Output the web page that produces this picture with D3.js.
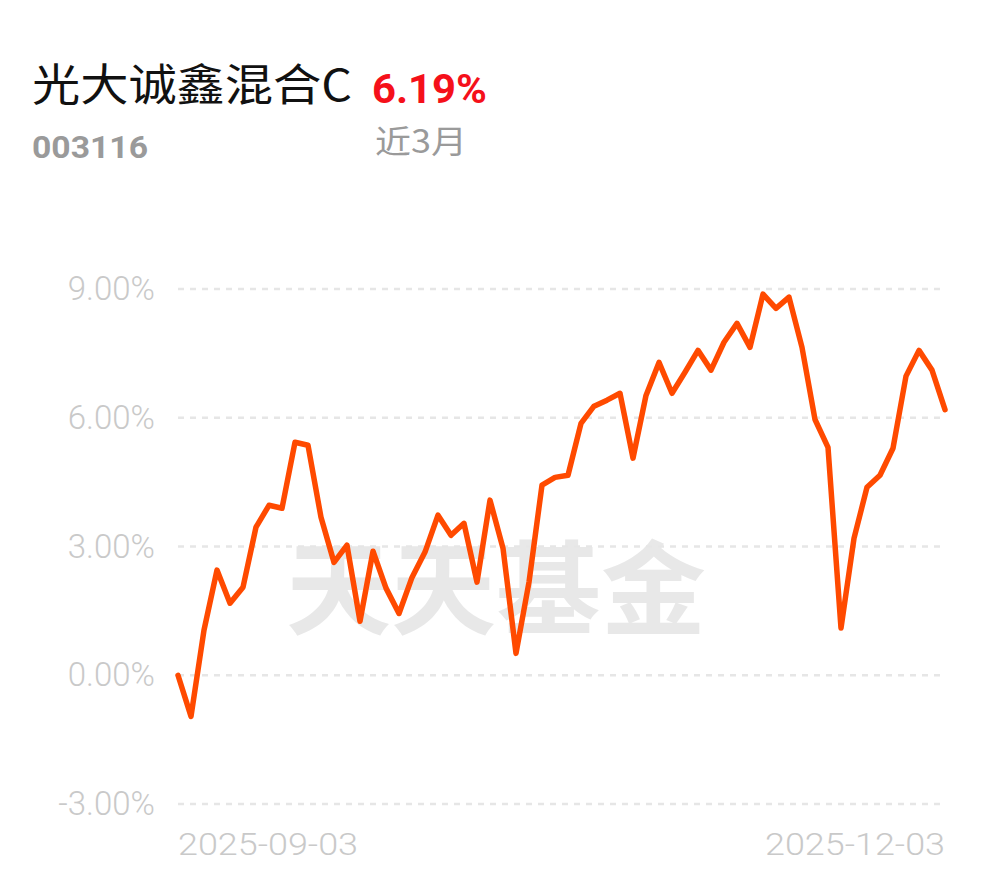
<!DOCTYPE html>
<html><head><meta charset="utf-8">
<script src="https://cdn.jsdelivr.net/npm/d3@7"></script>
<style>html,body{margin:0;padding:0;background:#fff;}svg{display:block;}</style>
</head><body>
<svg id="chart" width="990" height="878"></svg>
<script>
const fundName = "光大诚鑫混合C";
const fundCode = "003116";
const returnLabel = "6.19%";
const periodLabel = "近3月";
const watermark = "天天基金";
const yTicks = [-3, 0, 3, 6, 9];
const xLabels = ["2025-09-03", "2025-12-03"];
const values = [0.00, -0.96, 1.05, 2.45, 1.68, 2.05, 3.45, 3.96, 3.89, 5.43,
  5.36, 3.68, 2.63, 3.03, 1.26, 2.89, 2.03, 1.44, 2.28, 2.87,
  3.73, 3.26, 3.54, 2.17, 4.08, 2.96, 0.51, 2.17, 4.43, 4.61,
  4.66, 5.87, 6.27, 6.41, 6.57, 5.06, 6.52, 7.29, 6.57, 7.06,
  7.57, 7.11, 7.76, 8.20, 7.64, 8.88, 8.55, 8.81, 7.64, 5.96,
  5.31, 1.10, 3.19, 4.38, 4.66, 5.29, 6.97, 7.57, 7.11, 6.19];

const svg = d3.select("#chart");
const left = 178, right = 945;
const x = d3.scaleLinear().domain([0, values.length - 1]).range([left, right]);
const y = d3.scaleLinear().domain([-3, 9]).range([804, 289]);

// header
svg.append("text").attr("x", 32).attr("y", 101).attr("font-family", "Noto Sans CJK SC")
  .attr("font-size", 44).attr("fill", "#111")
  .attr("textLength", 320).attr("lengthAdjust", "spacingAndGlyphs").text(fundName);
svg.append("text").attr("x", 372).attr("y", 103).attr("font-family", "Roboto, Noto Sans CJK SC")
  .attr("font-size", 40).attr("font-weight", "bold").attr("fill", "#f5101a")
  .attr("textLength", 115).attr("lengthAdjust", "spacingAndGlyphs").text(returnLabel);
svg.append("text").attr("x", 32).attr("y", 158).attr("font-family", "Roboto, Noto Sans CJK SC")
  .attr("font-size", 32).attr("font-weight", "bold").attr("fill", "#9a9a9a")
  .attr("textLength", 116).attr("lengthAdjust", "spacingAndGlyphs").text(fundCode);
svg.append("text").attr("x", 375).attr("y", 153).attr("font-family", "Noto Sans CJK SC")
  .attr("font-size", 32).attr("fill", "#9a9a9a")
  .attr("textLength", 92).attr("lengthAdjust", "spacingAndGlyphs").text(periodLabel);

// watermark
svg.append("text").attr("x", 286).attr("y", 627).attr("font-family", "Noto Sans CJK SC")
  .attr("font-size", 102).attr("font-weight", 700).attr("fill", "#e8e8e8")
  .attr("textLength", 420).attr("lengthAdjust", "spacingAndGlyphs").text(watermark);

// y axis labels
const yAxis = d3.axisLeft(y).tickValues(yTicks).tickSize(0).tickPadding(0)
  .tickFormat(d => (d < 0 ? "-" : "") + d3.format(".2f")(Math.abs(d)) + "%");
const gy = svg.append("g").attr("transform", `translate(155,0)`).call(yAxis);
gy.select(".domain").remove();
gy.selectAll("text").attr("font-family", "Roboto").attr("font-weight", 300)
  .attr("font-size", 33).attr("fill", "#c9c9c9");

// grid
svg.append("g").selectAll("line").data(yTicks).join("line")
  .attr("x1", left).attr("x2", right)
  .attr("y1", d => y(d)).attr("y2", d => y(d))
  .attr("stroke", "#e6e6e6").attr("stroke-width", 2.5).attr("stroke-dasharray", "6,6");

// x labels
const xAxisScale = d3.scalePoint().domain(xLabels).range([left, right]);
svg.append("g").selectAll("text").data(xLabels).join("text")
  .attr("x", d => xAxisScale(d)).attr("y", 855)
  .attr("text-anchor", (d, i) => i === 0 ? "start" : "end")
  .attr("font-family", "Roboto").attr("font-weight", 300)
  .attr("font-size", 32).attr("fill", "#c9c9c9")
  .attr("textLength", 180).attr("lengthAdjust", "spacingAndGlyphs").text(d => d);

// line
svg.append("path").datum(values)
  .attr("d", d3.line().x((d, i) => x(i)).y(d => y(d)))
  .attr("fill", "none").attr("stroke", "#ff4a00").attr("stroke-width", 5.5)
  .attr("stroke-linejoin", "round").attr("stroke-linecap", "round");
</script>
</body></html>
